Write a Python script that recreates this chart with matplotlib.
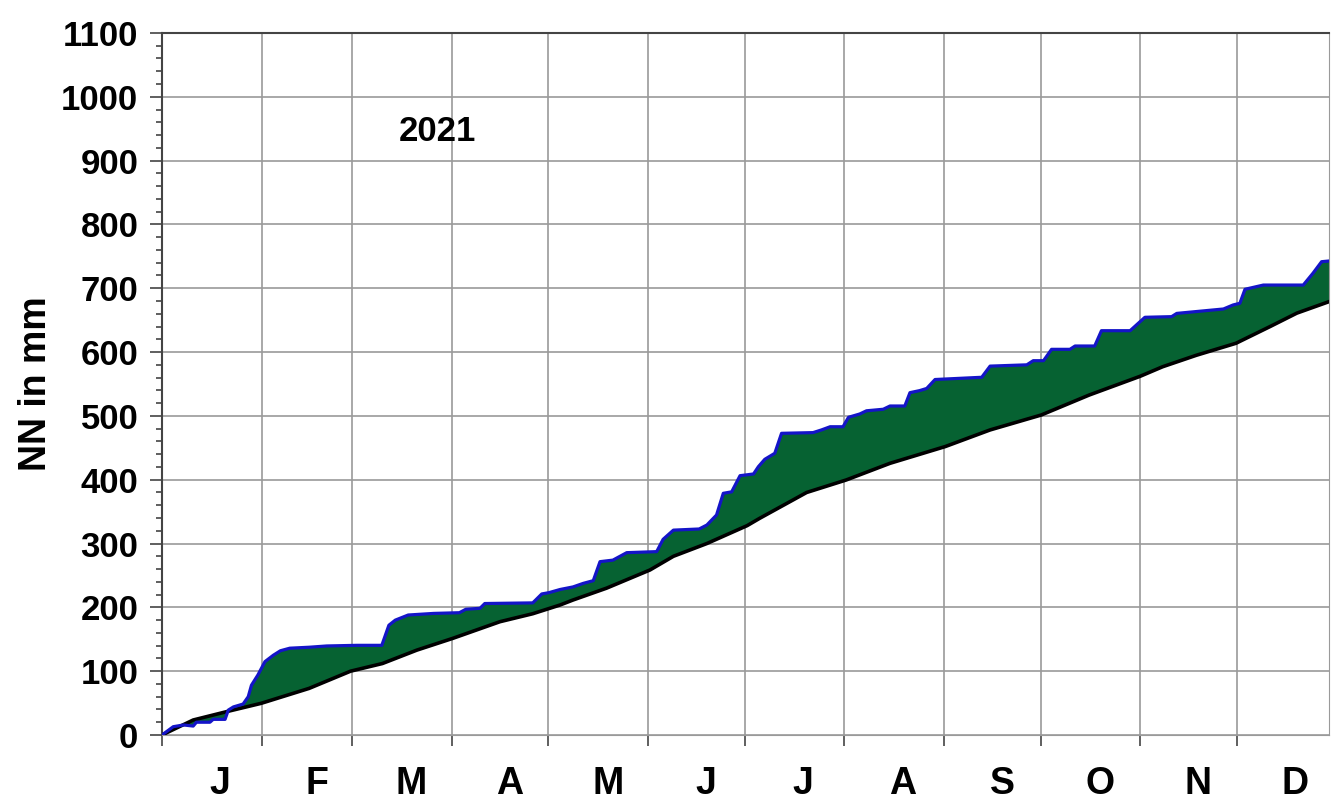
import numpy as np
import matplotlib.pyplot as plt
from matplotlib.ticker import MultipleLocator, FixedLocator, NullFormatter

plt.rcParams['font.family'] = ['Liberation Sans', 'DejaVu Sans']

# cumulative precipitation 2021 (day of year, mm)
rain_day = [0, 3.5, 6.7, 9.7, 10.7, 14.9, 15.9, 19.6, 20.6, 22.2, 25.2, 26.8, 27.8, 29.8, 32.0,
            34.6, 36.8, 39.7, 45.7, 51.2, 60.6, 68.3, 70.5, 72.5, 76.5, 84.4, 92.4, 94.4, 98.8, 100.3,
            115.2, 118.0, 120.2, 123.7, 127.7, 130.9, 134.0, 136.1, 140.1, 144.4, 153.7, 155.7,
            158.9, 166.9, 169.3, 172.3, 174.4, 177.0, 179.6, 183.8, 185.3, 187.3, 190.4, 192.5,
            202.3, 204.9, 207.6, 211.6, 213.3, 216.8, 218.9, 224.1, 226.2, 230.8, 232.4, 235.4,
            237.6, 240.2, 254.7, 257.3, 268.7, 270.7, 273.9, 276.4, 282.1, 283.7, 289.8,
            291.9, 300.8, 305.4, 313.7, 315.3, 329.8, 332.8, 334.9, 336.5, 342.2, 354.6, 357.6,
            360.3, 362.6]
rain_mm = [0, 13, 15.7, 14, 20, 20, 24.5, 24.5, 39, 44, 48.5, 60, 78, 94, 115,
           125, 132, 136, 137.5, 139.5, 140.5, 140.5, 172, 180, 188, 190.5, 191.6, 197, 198.5, 206,
           207, 221, 223, 228, 232, 237.6, 241.8, 271.6, 274, 285.7, 287.3, 306.6,
           321, 322.8, 329, 344.7, 378.7, 381, 406.3, 409, 420.4, 432, 441.4, 472.7,
           473.8, 478, 483, 483, 497.8, 503, 508, 510.4, 515.5, 515.5, 536.4, 539.6,
           543, 557, 560.5, 578, 580, 586.5, 586.5, 604.3, 604.3, 609.5, 609.5,
           633.5, 633.5, 654.5, 655.5, 660.6, 667.5, 673.8, 676.4, 698.4, 705, 705,
           723.4, 741.6, 742.7]

# long-term mean cumulative precipitation
mean_day = [0, 9.7, 20.1, 30.8, 45.7, 58.6, 68.5, 79.2, 90.4, 105.0, 115.2, 123.7, 127.7,
            138.1, 151.6, 158.9, 169.3, 181.8, 185.7, 200.3, 212.6, 226.2, 243.4, 257.3,
            273.2, 288.1, 303.9, 310.9, 321.4, 333.7, 344.3, 352.6, 362.6]
mean_mm = [0, 23.5, 36.6, 49.6, 73, 100, 112, 133, 151.5, 177.5, 190, 203.7, 211.5, 230,
           258.5, 280, 300, 328, 339.5, 380, 399.6, 425.7, 452, 478, 501.4, 532.7, 562,
           577, 595, 613.8, 640, 661, 679]

month_starts = [0, 31, 59, 90, 120, 151, 181, 212, 243, 273, 304, 334]
month_labels = ['J', 'F', 'M', 'A', 'M', 'J', 'J', 'A', 'S', 'O', 'N', 'D']
label_days = [18, 48, 77.5, 108, 138.5, 169, 199, 230, 261, 291.5, 322, 352]

fig = plt.figure(figsize=(13.31, 8.10), dpi=100)
ax = fig.add_axes([0.1217, 0.0926, 0.8768, 0.8667])

# green area between the two curves
poly_x = np.concatenate([rain_day, mean_day[::-1]])
poly_y = np.concatenate([rain_mm, mean_mm[::-1]])
ax.fill(poly_x, poly_y, color='#066232', lw=0, zorder=2)
ax.plot(mean_day, mean_mm, color='black', lw=2.6, zorder=3)
ax.plot(rain_day, rain_mm, color='#1414c8', lw=2.3, zorder=4)

ax.set_xlim(0, 362.6)
ax.set_ylim(0, 1100)

ax.yaxis.set_major_locator(MultipleLocator(100))
ax.yaxis.set_minor_locator(MultipleLocator(20))
ax.tick_params(axis='y', which='major', length=9, width=1.2, color='#444444',
               labelsize=25, pad=8)
ax.tick_params(axis='y', which='minor', length=4.5, width=1.2, color='#444444')
for lab in ax.get_yticklabels():
    lab.set_fontweight('bold')

ax.xaxis.set_major_locator(FixedLocator(month_starts))
ax.xaxis.set_major_formatter(NullFormatter())
ax.xaxis.set_minor_locator(FixedLocator(label_days))
ax.set_xticklabels(month_labels, minor=True, fontsize=27, fontweight='bold')
ax.tick_params(axis='x', which='major', length=8, width=1.2, color='#444444')
ax.tick_params(axis='x', which='minor', length=0, pad=22)

ax.grid(True, which='major', color='#9a9a9a', lw=1.2, zorder=1)
ax.set_axisbelow(True)

for side in ['left', 'top']:
    ax.spines[side].set_color('#444444')
    ax.spines[side].set_linewidth(1.5)
ax.spines['bottom'].set_color('#9a9a9a')
ax.spines['right'].set_color('#9a9a9a')

ax.set_ylabel('NN in mm', fontsize=27, fontweight='bold', labelpad=5)
ax.text(85.5, 946, '2021', fontsize=25, fontweight='bold', ha='center', va='center')

fig.savefig('out.png', dpi=100)
